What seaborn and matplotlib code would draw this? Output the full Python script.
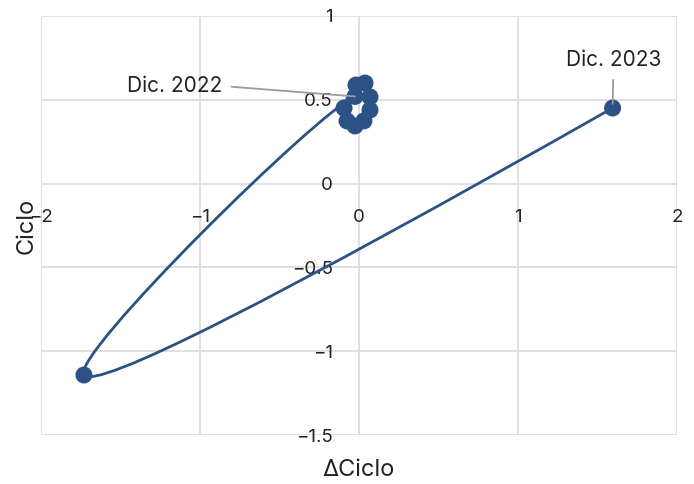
import numpy as np
import matplotlib
matplotlib.use("Agg")
import matplotlib.pyplot as plt
from matplotlib.path import Path
from matplotlib.patches import PathPatch
import seaborn as sns
import pandas as pd

# --------------------------------------------------
# Data
# --------------------------------------------------
delta_ciclo = [0.069, 0.031, -0.025, -0.075, -0.094, -0.019, 0.038, 0.069, -0.025, -1.730, 1.595]
ciclo = [0.439, 0.374, 0.344, 0.374, 0.451, 0.588, 0.600, 0.517, 0.520, -1.142, 0.451]

x_ticks = [-2, -1, 0, 1, 2]
x_tick_labels = ["−2", "−1", "0", "1", "2"]
y_ticks = [-1.5, -1, -0.5, 0, 0.5, 1]
y_tick_labels = ["−1.5", "−1", "−0.5", "0", "0.5", "1"]

ann_dec22 = "Dic. 2022"
ann_dec23 = "Dic. 2023"

df = pd.DataFrame({"dciclo": delta_ciclo, "ciclo": ciclo})

blue = "#2c5185"
grid_col = "#dddddd"
text_col = "#222222"

sns.set_theme(style="white")
plt.rcParams["font.family"] = ["Inter", "DejaVu Sans"]

fig = plt.figure(figsize=(6.94, 4.84), dpi=100)
ax = fig.add_axes([41 / 694, 49 / 484, 636 / 694, 419 / 484])
ax.set_xlim(-2, 2)
ax.set_ylim(-1.5, 1)

# pixel scale of the axes (used for the spline smoothing)
sx = 636 / 4.0
sy = 419 / 2.5


def spline_path(xs, ys, smoothness=1.0):
    pts = np.column_stack([np.asarray(xs) * sx, np.asarray(ys) * sy])
    n = len(pts)
    tangents = []
    for i in range(1, n - 1):
        p0, p1, p2 = pts[i - 1], pts[i], pts[i + 1]
        d1 = p0 - p1
        d2 = p2 - p1
        d1a = np.hypot(*d1) ** 0.5
        d2a = np.hypot(*d2) ** 0.5
        num = (d2a ** 2 * d1 - d1a ** 2 * d2) * smoothness
        den1 = 3 * d2a * (d1a + d2a)
        den2 = 3 * d1a * (d1a + d2a)
        tangents.append((p1 + num / den1, p1 - num / den2))
    verts = [pts[0], tangents[0][0], pts[1]]
    codes = [Path.MOVETO, Path.CURVE3, Path.CURVE3]
    for i in range(2, n - 1):
        verts += [tangents[i - 2][1], tangents[i - 1][0], pts[i]]
        codes += [Path.CURVE4] * 3
    verts += [tangents[n - 3][1], pts[n - 1]]
    codes += [Path.CURVE3] * 2
    verts = np.array(verts) / [sx, sy]
    return Path(verts, codes)


# grid
ax.set_xticks(x_ticks)
ax.set_xticklabels(x_tick_labels)
ax.set_yticks(y_ticks)
ax.set_yticklabels(y_tick_labels)
ax.grid(True, color=grid_col, linewidth=1.3)
for gl in ax.get_xgridlines() + ax.get_ygridlines():
    gl.set_clip_on(False)
ax.set_axisbelow(True)

for s in ax.spines.values():
    s.set_visible(False)
ax.spines["left"].set_position(("data", 0))
ax.spines["bottom"].set_position(("data", 0))
ax.tick_params(axis="x", length=0, pad=18, labelsize=13.5, labelcolor=text_col)
ax.tick_params(axis="y", length=0, pad=19, labelsize=13.5, labelcolor=text_col)

# smoothed trajectory
ax.add_patch(PathPatch(spline_path(delta_ciclo, ciclo, smoothness=1.0), facecolor="none",
                       edgecolor=blue, linewidth=2, zorder=3))

sns.scatterplot(data=df, x="dciclo", y="ciclo", ax=ax, color=blue, s=150,
                edgecolor="none", zorder=4, legend=False)

ax.set_xlabel("ΔCiclo", fontsize=17, color=text_col)
ax.set_ylabel("Ciclo", fontsize=17, color=text_col)
ax.xaxis.set_label_coords(0.5, -0.057)
ax.yaxis.set_label_coords(-0.006, 0.5)

# annotations
ax.annotate(ann_dec22, xy=(delta_ciclo[8], ciclo[8]), xytext=(-1.157, 0.582),
            ha="center", va="center", fontsize=15, color=text_col, zorder=6,
            arrowprops=dict(arrowstyle="-", color="#9a9a9a", lw=1.3,
                            relpos=(1, 0.5), shrinkA=4, shrinkB=0))
ax.annotate(ann_dec23, xy=(delta_ciclo[10], ciclo[10]), xytext=(1.60, 0.74),
            ha="center", va="center", fontsize=15, color=text_col, zorder=6,
            arrowprops=dict(arrowstyle="-", color="#9a9a9a", lw=1.3,
                            relpos=(0.5, 0), shrinkA=5, shrinkB=3))

fig.savefig("out.png", dpi=100)
